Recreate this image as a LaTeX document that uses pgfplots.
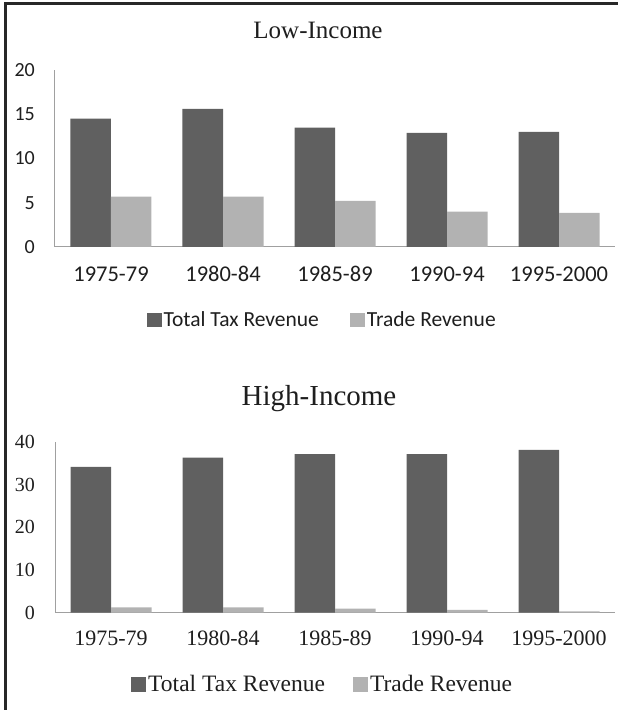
\documentclass[border=0pt]{standalone}
\usepackage{pgfplots}
\pgfplotsset{compat=1.18}
\usepackage{fontspec}
\newfontfamily\carlito{Carlito}
\newfontfamily\serifL{Liberation Serif}
\definecolor{darkbar}{RGB}{96,96,96}
\definecolor{lightbar}{RGB}{178,178,178}
\definecolor{axisgray}{RGB}{160,160,160}
\definecolor{txt}{RGB}{30,30,30}
\begin{document}
\begin{tikzpicture}
\useasboundingbox (0pt,0pt) rectangle (618pt,710pt);
\draw[line width=3pt, color={rgb,255:red,40;green,40;blue,40}] (5pt,0pt) -- (5pt,706pt) -- (618pt,706pt);
% titles
\node[font=\serifL\fontsize{25}{28}\selectfont, text=txt] at (318pt,680pt) {Low-Income};
\node[font=\serifL\fontsize{29}{32}\selectfont, text=txt] at (319pt,311pt) {High-Income};
% top panel
\begin{axis}[
  at={(55pt,463pt)}, anchor=south west,
  scale only axis, width=560pt, height=177pt,
  ybar=0pt, bar width=40.5pt,
  xmin=-0.5, xmax=4.5, ymin=0, ymax=20,
  xtick={0,1,2,3,4},
  xticklabels={1975-79,1980-84,1985-89,1990-94,1995-2000},
  ytick={0,5,10,15,20},
  axis lines=left,
  axis line style={-, draw=axisgray, line width=1pt},
  major tick length=0pt,
  /pgf/number format/assume math mode=true,
  xticklabel style={font=\carlito\fontsize{22.5}{24}\selectfont, text=txt, anchor=base, inner sep=0pt, yshift=-35pt},
  yticklabel style={font=\carlito\fontsize{20}{22}\selectfont, text=txt, anchor=east, inner sep=0pt, xshift=-20pt},
  legend style={at={(rel axis cs:0.477,-0.412)}, anchor=center, draw=none, fill=none,
    font=\carlito\fontsize{21.5}{23}\selectfont, text=txt, inner sep=0pt,
    nodes={inner sep=2pt},
    /tikz/every even column/.append style={column sep=29pt}},
  legend columns=2,
  legend image code/.code={\fill[#1] (0pt,-7pt) rectangle (15pt,7pt);},
]
\addplot[fill=darkbar, draw=none] coordinates {(0,14.5) (1,15.6) (2,13.5) (3,12.9) (4,13.0)};
\addplot[fill=lightbar, draw=none] coordinates {(0,5.7) (1,5.7) (2,5.2) (3,4.0) (4,3.85)};
\legend{Total Tax Revenue, Trade Revenue}
\end{axis}
% bottom panel
\begin{axis}[
  at={(55pt,97.3pt)}, anchor=south west,
  scale only axis, width=560pt, height=171pt,
  ybar=0pt, bar width=40.5pt,
  xmin=-0.5, xmax=4.5, ymin=0, ymax=40,
  xtick={0,1,2,3,4},
  xticklabels={1975-79,1980-84,1985-89,1990-94,1995-2000},
  ytick={0,10,20,30,40},
  axis lines=left,
  axis line style={-, draw=axisgray, line width=1pt},
  major tick length=0pt,
  /pgf/number format/assume math mode=true,
  xticklabel style={font=\serifL\fontsize{22}{24}\selectfont, text=txt, anchor=base, inner sep=0pt, yshift=-33pt},
  yticklabel style={font=\serifL\fontsize{20}{22}\selectfont, text=txt, anchor=east, inner sep=0pt, xshift=-20pt},
  legend style={at={(rel axis cs:0.478,-0.42)}, anchor=center, draw=none, fill=none,
    font=\serifL\fontsize{23.5}{25}\selectfont, text=txt, inner sep=0pt,
    nodes={inner sep=2pt},
    /tikz/every even column/.append style={column sep=26pt}},
  legend columns=2,
  legend image code/.code={\fill[#1] (0pt,-7.5pt) rectangle (15pt,7.5pt);},
]
\addplot[fill=darkbar, draw=none] coordinates {(0,34.1) (1,36.3) (2,37.1) (3,37.1) (4,38.1)};
\addplot[fill=lightbar, draw=none] coordinates {(0,1.25) (1,1.25) (2,0.95) (3,0.65) (4,0.3)};
\legend{Total Tax Revenue, Trade Revenue}
\end{axis}
\end{tikzpicture}
\end{document}
